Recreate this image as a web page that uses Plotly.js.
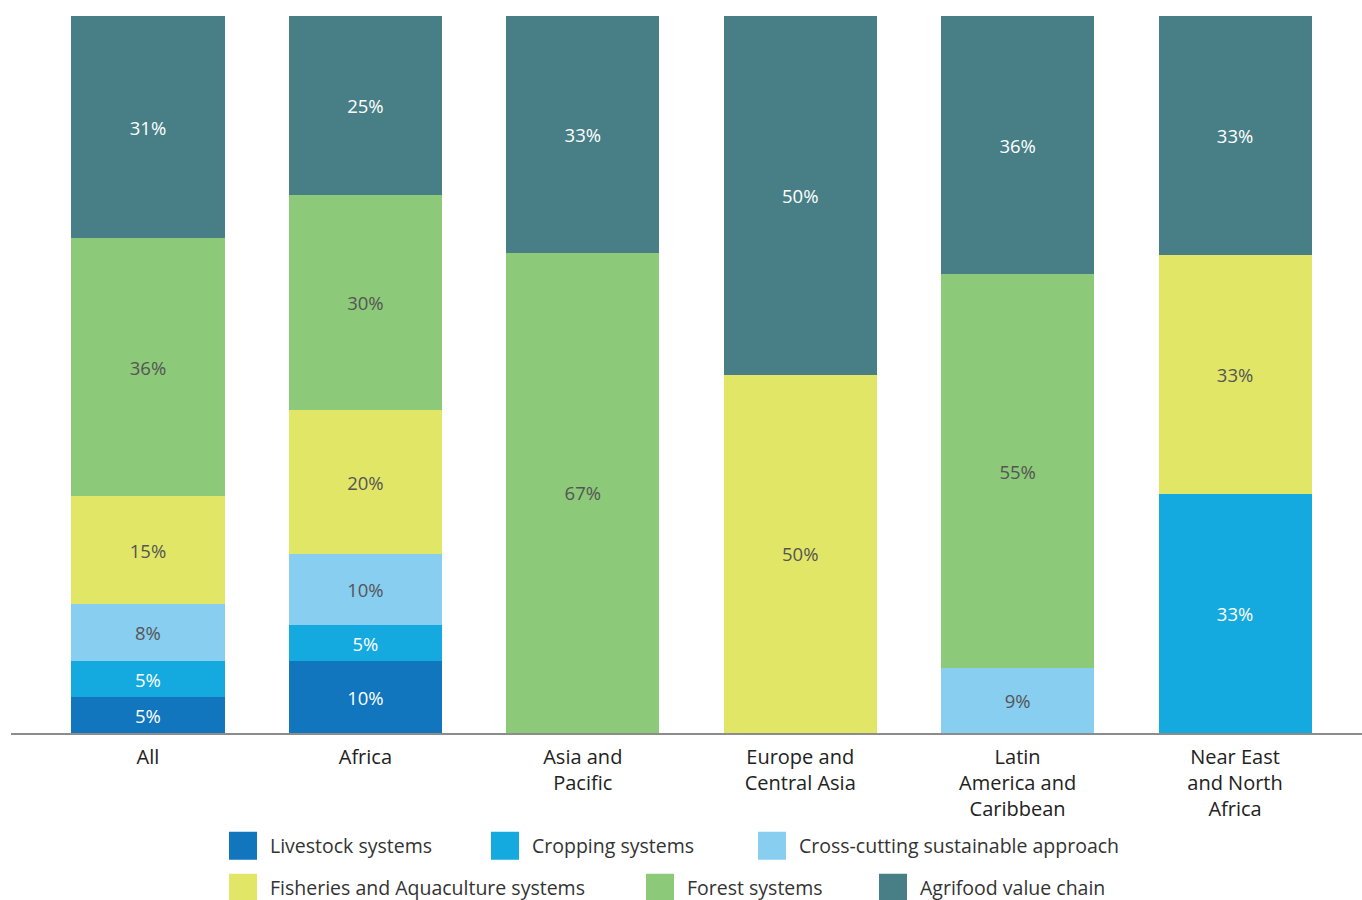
<!DOCTYPE html>
<html>
<head>
<meta charset="utf-8">
<script src="https://cdn.plot.ly/plotly-3.0.1.min.js"></script>
<style>html,body{margin:0;padding:0;background:#fff;}#chart{width:1362px;height:900px;}</style>
</head>
<body>
<div id="chart"></div>
<script>
const regions = ["All", "Africa", "Asia and<br>Pacific", "Europe and<br>Central Asia", "Latin<br>America and<br>Caribbean", "Near East<br>and North<br>Africa"];
const seriesNames = ["Livestock systems", "Cropping systems", "Cross-cutting sustainable approach", "Fisheries and Aquaculture systems", "Forest systems", "Agrifood value chain"];
const seriesColors = ["#1176be", "#15aadf", "#88cef0", "#e1e666", "#8cc978", "#487f87"];
const labelColors = ["#ffffff", "#ffffff", "#555555", "#555555", "#555555", "#ffffff"];
const livestock = [5, 10, null, null, null, null];
const cropping = [5, 5, null, null, null, 33.33];
const crossCutting = [8, 10, null, null, 9, null];
const fisheries = [15, 20, null, 50, null, 33.33];
const forest = [36, 30, 67, null, 55, null];
const agrifood = [31, 25, 33, 50, 36, 33.33];
const seriesValues = [livestock, cropping, crossCutting, fisheries, forest, agrifood];

const legendIds = ["legend", "legend2", "legend3", "legend4", "legend5", "legend6"];
const legendPx = [[216, 846], [478, 846], [745, 846], [216, 888], [633, 888], [866, 888]];

const traces = seriesValues.map((vals, i) => ({
  type: "bar",
  name: seriesNames[i],
  x: regions,
  y: vals,
  marker: {color: seriesColors[i], line: {width: 0}},
  texttemplate: "%{y:.0f}%",
  textposition: "inside",
  insidetextanchor: "middle",
  textangle: 0,
  textfont: {family: "Open Sans, Noto Sans, sans-serif", size: 18.5, color: labelColors[i]},
  hoverinfo: "skip",
  legend: legendIds[i]
}));

const layout = {
  width: 1362,
  height: 900,
  margin: {l: 11, r: 0, t: 16, b: 167, autoexpand: false},
  paper_bgcolor: "#ffffff",
  plot_bgcolor: "#ffffff",
  barmode: "stack",
  bargap: 0.296,
  showlegend: true,
  hovermode: false,
  font: {family: "Open Sans, Noto Sans, sans-serif"},
  xaxis: {
    type: "category",
    range: [-0.63, 5.584],
    showline: true,
    linecolor: "#8c8c8c",
    linewidth: 2,
    ticks: "",
    showgrid: false,
    zeroline: false,
    automargin: false,
    ticklabelstandoff: 5,
    tickfont: {family: "Open Sans, Noto Sans, sans-serif", size: 20, color: "#222222"},
    fixedrange: true
  },
  yaxis: {range: [0, 100], visible: false, fixedrange: true}
};

legendIds.forEach((id, i) => {
  layout[id] = {
    orientation: "h",
    xanchor: "left",
    yanchor: "middle",
    x: (legendPx[i][0] - 11) / 1351,
    y: (733 - legendPx[i][1]) / 717,
    font: {family: "Open Sans, Noto Sans, sans-serif", size: 19.5, color: "#333333"},
    itemwidth: 44,
    bgcolor: "rgba(0,0,0,0)",
    itemclick: false,
    itemdoubleclick: false
  };
});

Plotly.newPlot("chart", traces, layout, {staticPlot: true, displayModeBar: false}).then(() => {
  document.querySelectorAll(".legendpoints path").forEach(p => {
    p.setAttribute("d", "M14,14H-14V-14H14Z");
  });
});
</script>
</body>
</html>
